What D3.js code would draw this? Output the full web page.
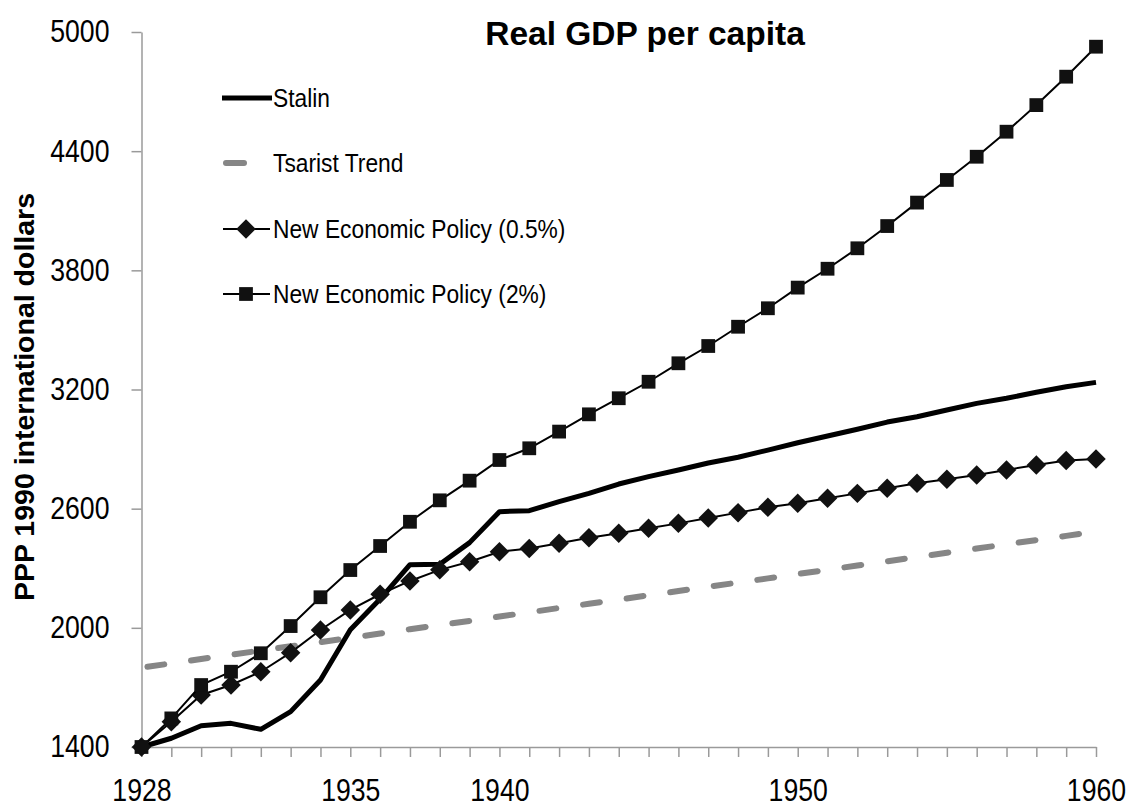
<!DOCTYPE html>
<html>
<head>
<meta charset="utf-8">
<script src="https://cdn.jsdelivr.net/npm/d3@7/dist/d3.min.js"></script>
<style>
  body { margin: 0; background: #fff; }
  text { font-family: 'Liberation Sans', Arial, sans-serif; fill: #000; }
  .bold { font-weight: bold; }
</style>
</head>
<body>
<div id="vis"></div>
<script>
var years = [1928, 1929, 1930, 1931, 1932, 1933, 1934, 1935, 1936, 1937, 1938,
             1939, 1940, 1941, 1942, 1943, 1944, 1945, 1946, 1947, 1948, 1949,
             1950, 1951, 1952, 1953, 1954, 1955, 1956, 1957, 1958, 1959, 1960];

var stalin = [1400, 1444, 1507, 1519, 1489, 1578, 1737, 1990, 2145, 2318, 2320,
              2429, 2585, 2590, 2635, 2677, 2724, 2761, 2795, 2830, 2859, 2895,
              2932, 2966, 3000, 3036, 3063, 3097, 3130, 3156, 3186, 3214, 3236];

var tsarist = [1800, 1821, 1843, 1864, 1886, 1907, 1928, 1950, 1971, 1993, 2014,
               2035, 2057, 2078, 2100, 2121, 2142, 2164, 2185, 2207, 2228, 2249,
               2271, 2292, 2314, 2335, 2356, 2378, 2399, 2421, 2442, 2463, 2485];

var nepLow = [1400, 1527, 1662, 1712, 1779, 1875, 1989, 2090, 2169, 2236, 2292,
              2333, 2383, 2400, 2426, 2454, 2476, 2501, 2526, 2553, 2580, 2607,
              2627, 2652, 2677, 2703, 2728, 2748, 2770, 2795, 2820, 2842, 2850];

var nepHigh = [1400, 1544, 1712, 1779, 1872, 2009, 2154, 2291, 2412, 2534, 2642,
               2741, 2845, 2904, 2988, 3075, 3156, 3239, 3332, 3419, 3516, 3609,
               3713, 3808, 3911, 4023, 4141, 4255, 4372, 4498, 4632, 4775, 4926];

var yTicks = [1400, 2000, 2600, 3200, 3800, 4400, 5000];
var xLabels = [1928, 1935, 1940, 1950, 1960];

var width = 1128,
    height = 806,
    squeeze = 0.86; // the labels in the original are a narrow face

var xScale = d3.scaleLinear()
  .domain([1928, 1960])
  .range([141.5, 1096]);

var yScale = d3.scaleLinear()
  .domain([1400, 5000])
  .range([747, 32]);

var svg = d3.select('#vis')
  .append('svg')
    .attr('width', width)
    .attr('height', height)
    .style('background', '#fff');

// axes
var xAxis = d3.axisBottom(xScale)
  .tickValues(years)
  .tickSize(10)
  .tickSizeOuter(0)
  .tickPadding(22)
  .tickFormat(function(d) {
    return xLabels.indexOf(d) >= 0 ? d : '';
  });

var yAxis = d3.axisLeft(yScale)
  .tickValues(yTicks)
  .tickSize(10)
  .tickSizeOuter(0)
  .tickPadding(22)
  .tickFormat(d3.format('d'));

var gx = svg.append('g')
  .attr('transform', 'translate(0,' + yScale(1400) + ')')
  .call(xAxis);

var gy = svg.append('g')
  .attr('transform', 'translate(' + xScale(1928) + ',0)')
  .call(yAxis);

[gx, gy].forEach(function(g) {
  g.select('.domain').attr('stroke', '#9a9a9a').attr('stroke-width', 1.5);
  g.selectAll('.tick line').attr('stroke', '#9a9a9a').attr('stroke-width', 1.5);
  g.selectAll('.tick text')
    .style('font-size', '31px')
    .attr('fill', '#000');
});

gx.selectAll('.tick text')
  .attr('transform', 'scale(' + squeeze + ',1)');

gy.selectAll('.tick text')
  .attr('x', -32 / squeeze)
  .attr('transform', 'scale(' + squeeze + ',1)');

// series
var line = d3.line()
  .x(function(d, i) { return xScale(years[i]); })
  .y(function(d) { return yScale(d); });

svg.append('path')
  .datum(tsarist)
  .attr('d', line)
  .attr('fill', 'none')
  .attr('stroke', '#868686')
  .attr('stroke-width', 6)
  .attr('stroke-linecap', 'round')
  .attr('stroke-dasharray', '17,27')
  .attr('stroke-dashoffset', -6);

svg.append('path')
  .datum(stalin)
  .attr('d', line)
  .attr('fill', 'none')
  .attr('stroke', '#000')
  .attr('stroke-width', 5)
  .attr('stroke-linejoin', 'round');

var symbolSize = 190;

function drawMarked(data, rotate) {
  svg.append('path')
    .datum(data)
    .attr('d', line)
    .attr('fill', 'none')
    .attr('stroke', '#000')
    .attr('stroke-width', 2);

  svg.append('g')
    .selectAll('path')
    .data(data)
    .enter()
    .append('path')
      .attr('d', d3.symbol().type(d3.symbolSquare).size(symbolSize))
      .attr('transform', function(d, i) {
        return 'translate(' + xScale(years[i]) + ',' + yScale(d) + ')' + (rotate ? ' rotate(45)' : '');
      })
      .attr('fill', '#111');
}

drawMarked(nepLow, true);
drawMarked(nepHigh, false);

// title
svg.append('text')
  .attr('class', 'bold')
  .attr('x', 645)
  .attr('y', 45)
  .attr('text-anchor', 'middle')
  .style('font-size', '33.5px')
  .text('Real GDP per capita');

svg.append('text')
  .attr('class', 'bold')
  .attr('transform', 'translate(34,397) rotate(-90)')
  .attr('text-anchor', 'middle')
  .style('font-size', '28.5px')
  .text('PPP 1990 international dollars');

// legend
var legendItems = [
  {name: 'Stalin', y: 98},
  {name: 'Tsarist Trend', y: 163},
  {name: 'New Economic Policy (0.5%)', y: 229},
  {name: 'New Economic Policy (2%)', y: 294}
];

var legend = svg.append('g');

legend.append('line')
  .attr('x1', 222).attr('x2', 272)
  .attr('y1', legendItems[0].y).attr('y2', legendItems[0].y)
  .attr('stroke', '#000').attr('stroke-width', 5);

legend.append('line')
  .attr('x1', 226).attr('x2', 244)
  .attr('y1', legendItems[1].y).attr('y2', legendItems[1].y)
  .attr('stroke', '#868686').attr('stroke-width', 6)
  .attr('stroke-linecap', 'round');

[2, 3].forEach(function(k) {
  legend.append('line')
    .attr('x1', 223).attr('x2', 270)
    .attr('y1', legendItems[k].y).attr('y2', legendItems[k].y)
    .attr('stroke', '#000').attr('stroke-width', 2);
  legend.append('path')
    .attr('d', d3.symbol().type(d3.symbolSquare).size(symbolSize))
    .attr('transform', 'translate(246,' + legendItems[k].y + ')' + (k == 2 ? ' rotate(45)' : ''))
    .attr('fill', '#111');
});

legend.selectAll('text')
  .data(legendItems)
  .enter()
  .append('text')
    .attr('transform', function(d) {
      return 'translate(273,' + d.y + ') scale(' + squeeze + ',1)';
    })
    .attr('dy', '0.35em')
    .style('font-size', '26.5px')
    .text(function(d) { return d.name; });
</script>
</body>
</html>
